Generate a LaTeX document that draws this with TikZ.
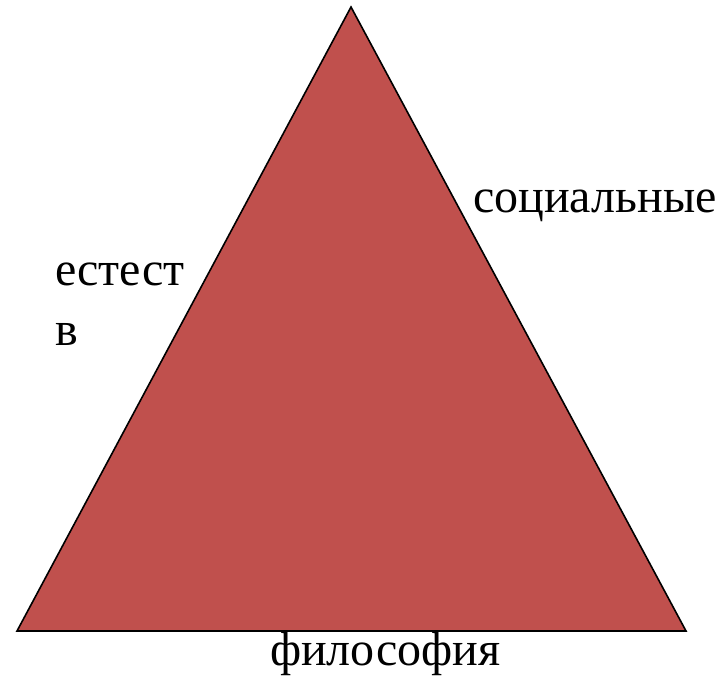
\documentclass[tikz,border=0pt]{standalone}
\usepackage{fontspec}
\setmainfont{Liberation Serif}
\definecolor{trired}{HTML}{C0504D}
\begin{document}
\begin{tikzpicture}[x=1pt,y=-1pt,
  lbl/.style={anchor=base west,inner sep=0pt,font=\fontsize{48}{56}\selectfont}]
\useasboundingbox (0,0) rectangle (722,675);
\coordinate (apex) at (351,7);
\coordinate (bl) at (17,631);
\coordinate (br) at (686,631);
\fill[trired] (apex) -- (br) -- (bl) -- cycle;
\draw[line width=1.6pt,line join=miter] (apex) -- (br) -- (bl) -- cycle;
\node[lbl] (soc) at (473,212) {социальные};
\node[lbl] (est) at (55,285) {естест};
\node[lbl] (v) at (55,345) {в};
\node[lbl] (fil) at (270,665) {философия};
\end{tikzpicture}
\end{document}
